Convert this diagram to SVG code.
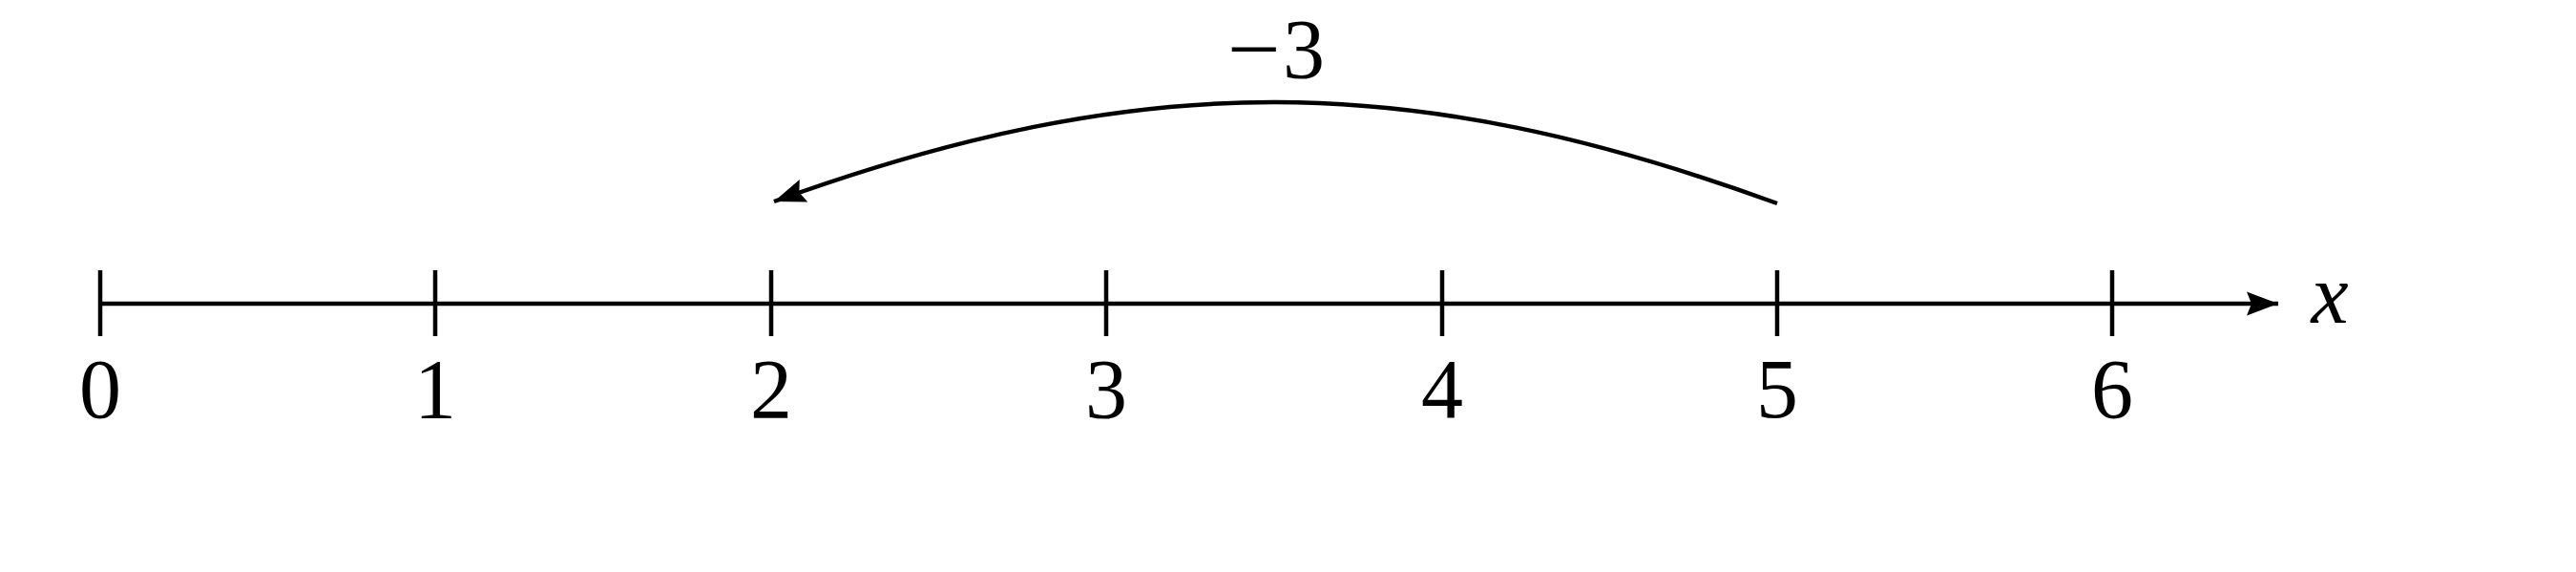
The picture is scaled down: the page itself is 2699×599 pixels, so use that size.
<svg xmlns="http://www.w3.org/2000/svg" width="2699" height="599" viewBox="0 0 2699 599">
<style>
.ln{stroke:#000;stroke-width:4.5;fill:none}
.lbl{font-family:"Liberation Serif","DejaVu Serif",serif;font-size:88px;fill:#000;text-anchor:middle}
</style>
<defs>
<marker id="ah" markerUnits="userSpaceOnUse" markerWidth="40" markerHeight="30" refX="33" refY="12.5" orient="auto" viewBox="0 0 40 25">
<path d="M0,0 L33,12.5 L0,25 L5,12.5 Z" fill="#000"/>
</marker>
</defs>
<rect width="2699" height="599" fill="#fff"/>
<g id="connectors">
<line class="ln" x1="105" y1="318" x2="2387" y2="318" marker-end="url(#ah)"/>
<path class="ln" d="M1862,213 C1475,72 1196,72 811,211" marker-end="url(#ah)"/>
</g>
<g id="ticks">
<line class="ln" x1="105" y1="283" x2="105" y2="352"/>
<line class="ln" x1="456" y1="283" x2="456" y2="352"/>
<line class="ln" x1="808" y1="283" x2="808" y2="352"/>
<line class="ln" x1="1159" y1="283" x2="1159" y2="352"/>
<line class="ln" x1="1511" y1="283" x2="1511" y2="352"/>
<line class="ln" x1="1862" y1="283" x2="1862" y2="352"/>
<line class="ln" x1="2213" y1="283" x2="2213" y2="352"/>
</g>
<g id="labels">
<text class="lbl" x="105" y="437">0</text>
<text class="lbl" x="456" y="437">1</text>
<text class="lbl" x="808" y="437">2</text>
<text class="lbl" x="1159" y="437">3</text>
<text class="lbl" x="1511" y="437">4</text>
<text class="lbl" x="1862" y="437">5</text>
<text class="lbl" x="2213" y="437">6</text>
<text class="lbl" x="2441" y="338" font-size="82" font-style="italic">x</text>
<text class="lbl" x="1337" y="81" font-size="84"><tspan textLength="56" lengthAdjust="spacingAndGlyphs">−</tspan><tspan dx="2">3</tspan></text>
</g>
</svg>
